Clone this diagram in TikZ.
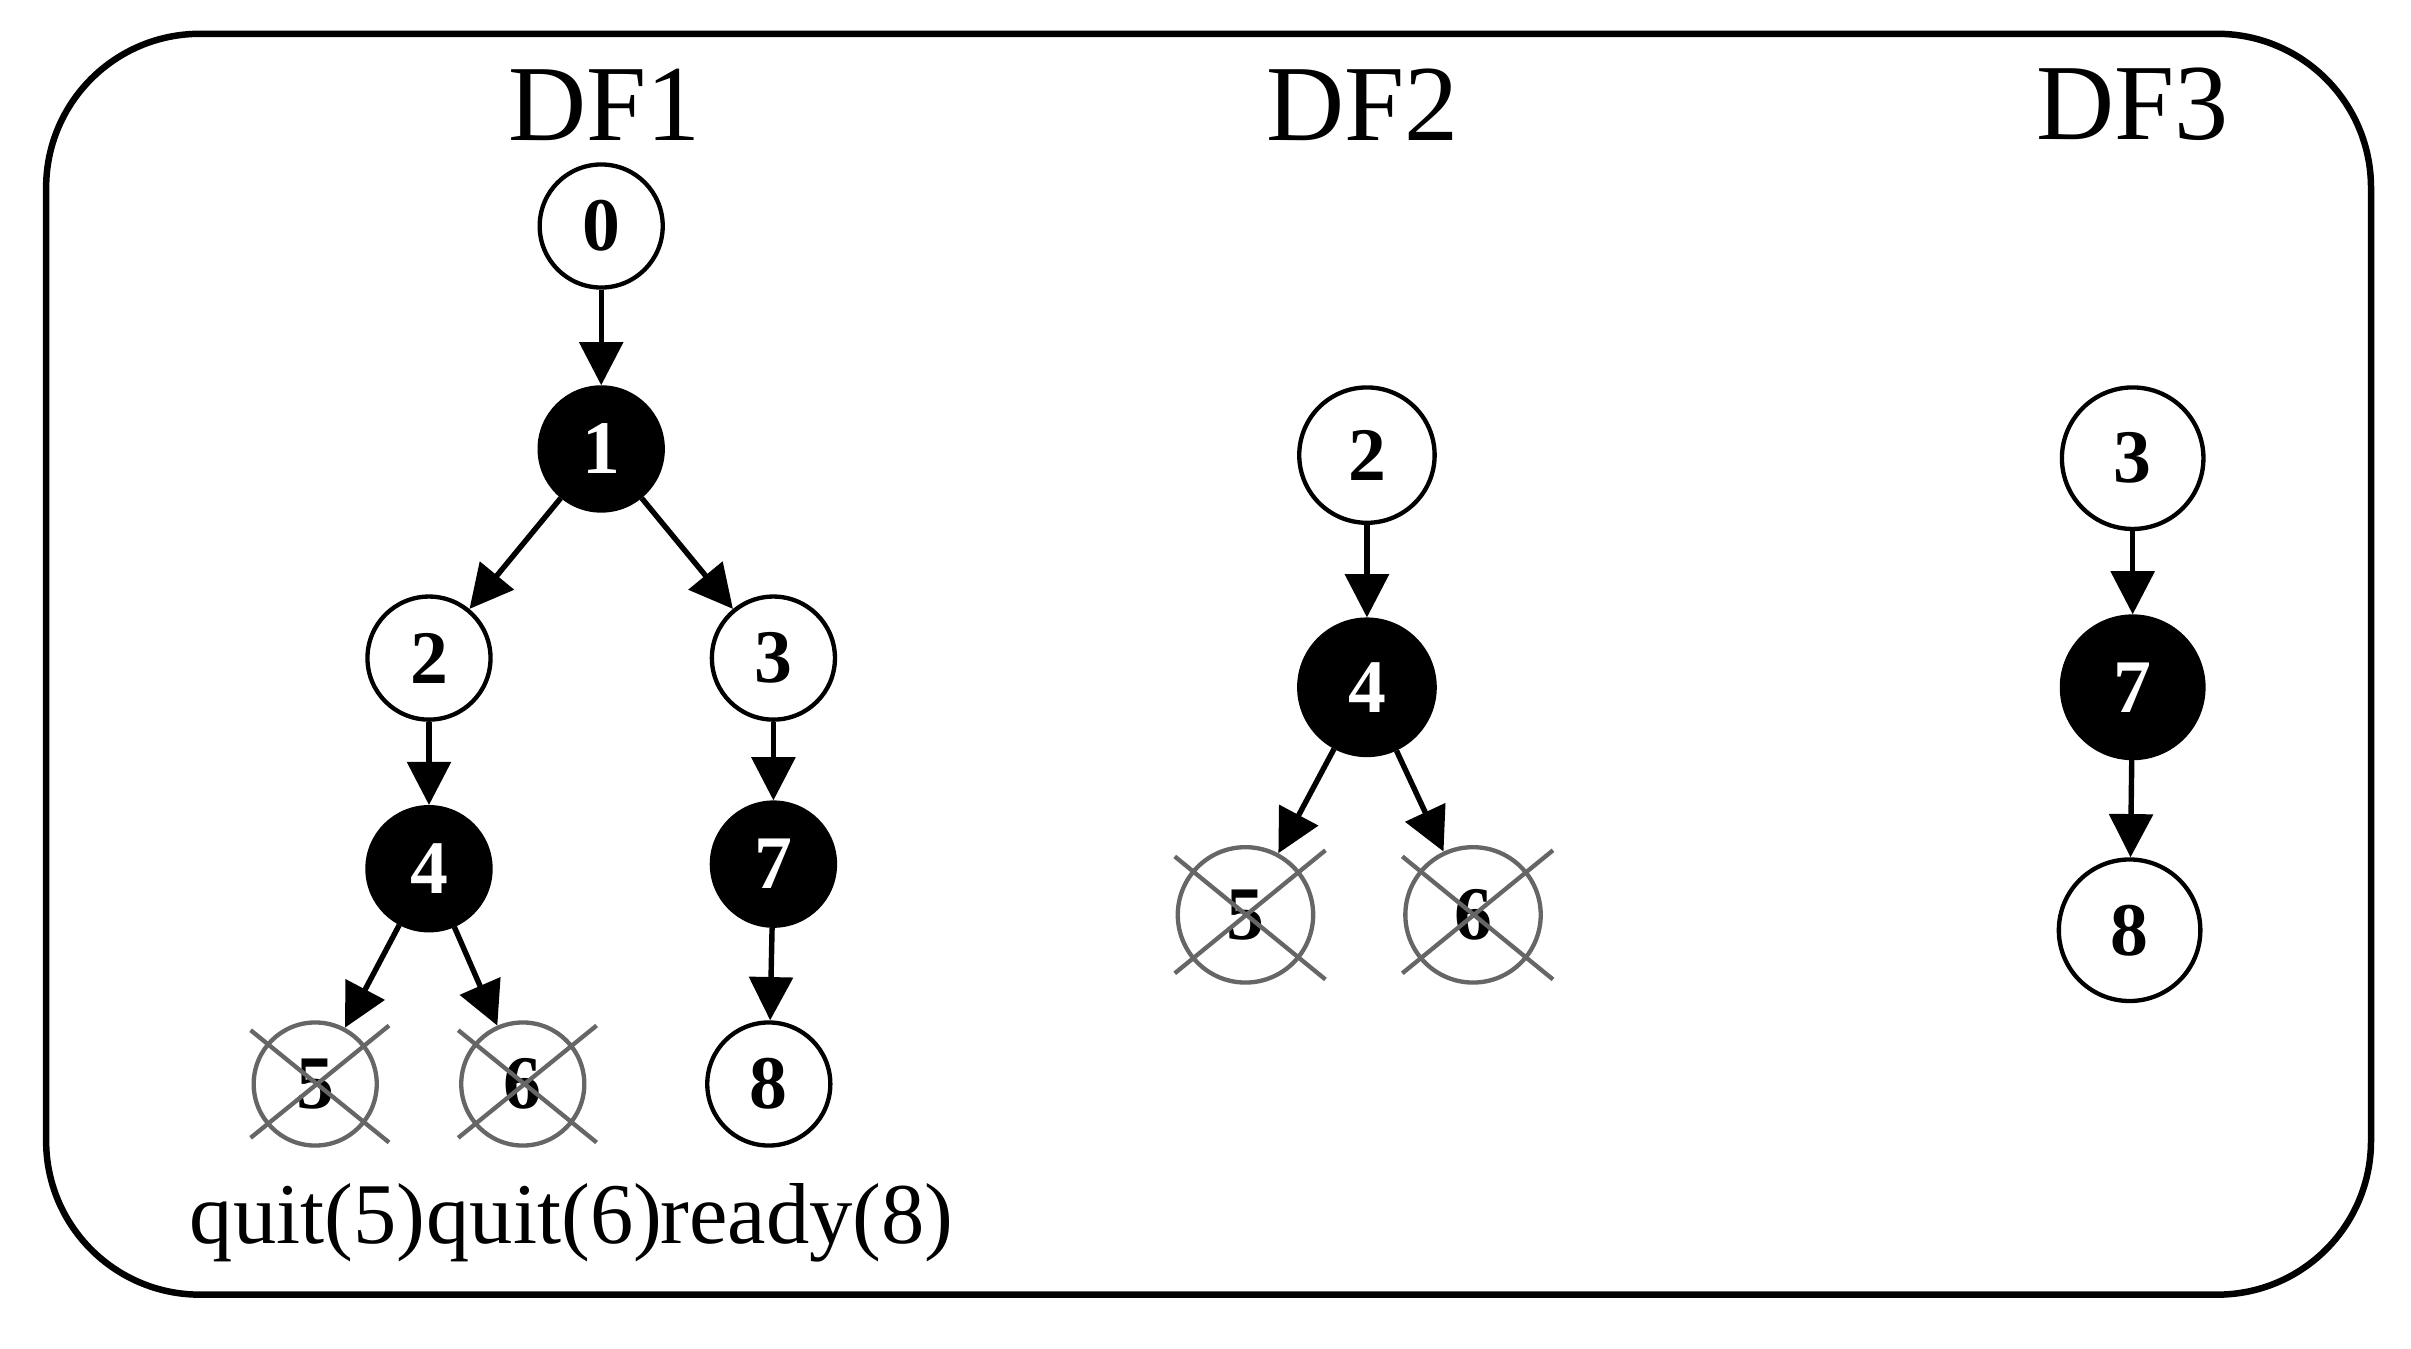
\documentclass[tikz,border=0pt]{standalone}
\usepackage{fontspec}
\setmainfont{Liberation Serif}
\usetikzlibrary{arrows.meta}
\begin{document}
\begin{tikzpicture}[x=0.01cm,y=-0.01cm,
 w/.style={circle,draw,line width=0.8pt,minimum size=#1,inner sep=0pt,font=\fontsize{14}{14}\selectfont\bfseries},
 b/.style={w=#1,fill=black,text=white},
 x/.style={w=#1,draw=gray!80!black,text=black},
 ar/.style={-{Triangle[length=8pt,width=8pt]},line width=1pt},
 cr/.style={gray!80!black,line width=0.8pt},
 ttl/.style={font=\fontsize{20}{20}\selectfont},
 lbl/.style={font=\fontsize{16}{16}\selectfont}]
\useasboundingbox (0,0) rectangle (1568,877);
\draw[line width=1.2pt,rounded corners=1cm] (30,22) rectangle (1542,842);
% DF1
\node[ttl] (t1) at (393,68) {DF1};
\node[w=0.8cm] (a0) at (391,147) {0};
\node[b=0.8cm] (a1) at (391,292) {1};
\node[w=0.8cm] (a2) at (279,428) {2};
\node[w=0.8cm] (a3) at (503,428) {3};
\node[b=0.8cm] (a4) at (279,565) {4};
\node[b=0.8cm] (a7) at (503,562) {7};
\node[x=0.8cm] (a5) at (205,705) {5};
\node[x=0.8cm] (a6) at (340,705) {6};
\node[w=0.8cm] (a8) at (500,705) {8};
\draw[ar] (a0)--(a1); \draw[ar] (a1)--(a2); \draw[ar] (a1)--(a3);
\draw[ar] (a2)--(a4); \draw[ar] (a3)--(a7); \draw[ar] (a4)--(a5);
\draw[ar] (a4)--(a6); \draw[ar] (a7)--(a8);
\foreach \n in {a5,a6}{\draw[cr] ([shift={(-42,-35)}]\n.center)--([shift={(48,38)}]\n.center);
 \draw[cr] ([shift={(-42,35)}]\n.center)--([shift={(48,-38)}]\n.center);}
\node[lbl] (q5) at (200,795) {quit(5)};
\node[lbl] (q6) at (354,795) {quit(6)};
\node[lbl] (r8) at (525,795) {ready(8)};
% DF2
\node[ttl] (t2) at (886,68) {DF2};
\node[w=0.88cm] (b2) at (889,296) {2};
\node[b=0.88cm] (b4) at (889,447) {4};
\node[x=0.88cm] (b5) at (810,595) {5};
\node[x=0.88cm] (b6) at (958,595) {6};
\draw[ar] (b2)--(b4); \draw[ar] (b4)--(b5); \draw[ar] (b4)--(b6);
\foreach \n in {b5,b6}{\draw[cr] ([shift={(-46,-38)}]\n.center)--([shift={(52,42)}]\n.center);
 \draw[cr] ([shift={(-46,38)}]\n.center)--([shift={(52,-42)}]\n.center);}
% DF3
\node[ttl] (t3) at (1387,68) {DF3};
\node[w=0.92cm] (c3) at (1387,298) {3};
\node[b=0.92cm] (c7) at (1387,447) {7};
\node[w=0.92cm] (c8) at (1385,605) {8};
\draw[ar] (c3)--(c7); \draw[ar] (c7)--(c8);
\end{tikzpicture}
\end{document}
